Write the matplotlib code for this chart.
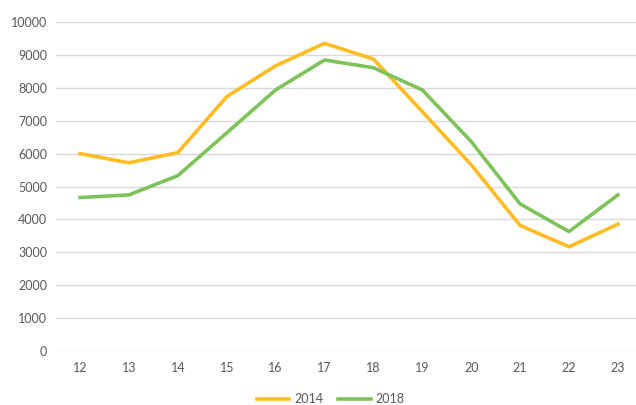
import matplotlib
matplotlib.use('Agg')
import matplotlib.pyplot as plt

hours = ['12', '13', '14', '15', '16', '17', '18', '19', '20', '21', '22', '23']
vals_2014 = [6000, 5720, 6030, 7730, 8670, 9350, 8875, 7275, 5660, 3815, 3170, 3855]
vals_2018 = [4665, 4745, 5330, 6630, 7935, 8845, 8610, 7935, 6365, 4470, 3630, 4745]
yticks = [0, 1000, 2000, 3000, 4000, 5000, 6000, 7000, 8000, 9000, 10000]

plt.rcParams['font.family'] = ['Lato', 'DejaVu Sans']

fig = plt.figure(figsize=(6.36, 4.05), dpi=100)
ax = fig.add_axes([0.0874, 0.1333, 0.9126, 0.8124])

x = range(len(hours))
ax.plot(x, vals_2014, color='#FFBC22', lw=2.6, label='2014', solid_joinstyle='round')
ax.plot(x, vals_2018, color='#7DC35A', lw=2.6, label='2018', solid_joinstyle='round')

ax.set_xlim(-0.5, 11.37)
ax.set_ylim(0, 10000)
ax.set_yticks(yticks)
ax.set_xticks(list(x))
ax.set_xticklabels(hours)
ax.grid(axis='y', color='#D9D9D9', lw=1)
ax.set_axisbelow(True)
for s in ax.spines.values():
    s.set_visible(False)
ax.tick_params(length=0, labelsize=9, colors='#595959', pad=8)
ax.tick_params(axis='y', pad=6)

# legend under the plot, centred on the figure
leg = fig.legend(loc='center', bbox_to_anchor=(0.52, 0.015), ncol=2, frameon=False,
                 fontsize=9, handlelength=2.6, columnspacing=1.2, handletextpad=0.4,
                 borderaxespad=0, borderpad=0)
for t in leg.get_texts():
    t.set_color('#595959')

fig.savefig('out.png', dpi=100)
